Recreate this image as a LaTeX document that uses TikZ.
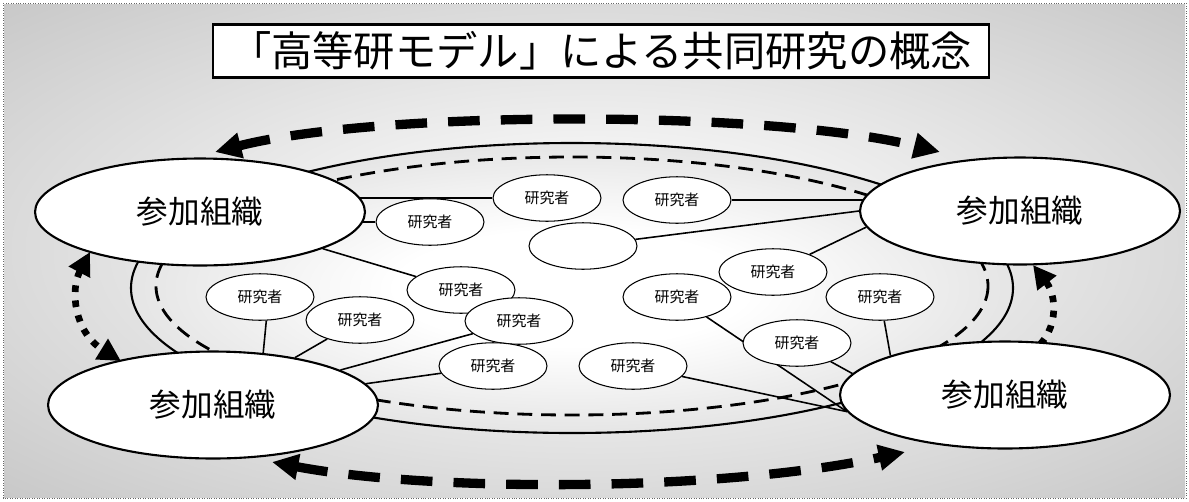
\documentclass[tikz,border=0pt]{standalone}
\usepackage{fontspec}
\setmainfont{Noto Sans CJK JP}
\usetikzlibrary{arrows.meta,shapes.geometric}
\pgfdeclarelayer{back}
\pgfsetlayers{back,main}
\pgfdeclareradialshading{glow}{\pgfpoint{0bp}{0bp}}{color(0bp)=(white); color(3bp)=(white); color(50bp)=(black!31); color(75bp)=(black!31)}
\pgfdeclareradialshading{glowin}{\pgfpoint{0bp}{0bp}}{color(0bp)=(white); color(10bp)=(white); color(50bp)=(black!27)}

\begin{document}
\begin{tikzpicture}[x=0.02cm,y=-0.02cm,
    org/.style={ellipse,draw,line width=1.2pt,fill=white,minimum width=6.6cm,minimum height=2.14cm,inner sep=0pt,font=\fontsize{18}{20}\selectfont},
    res/.style={ellipse,draw,line width=.6pt,fill=white,minimum width=2.16cm,minimum height=.93cm,inner sep=0pt,font=\fontsize{8.5}{10}\selectfont},
    link/.style={line width=.9pt},
    bigarrow/.style={line width=5.3pt,dash pattern=on 18pt off 12pt,>={Triangle[length=15pt,width=14pt]},<->},
    dotarrow/.style={line width=3.8pt,dash pattern=on 3.8pt off 4.8pt,>={Triangle[length=13pt,width=13pt]},<->}]
      \useasboundingbox (0,0) rectangle (1189,501);
      % title
      \node[draw,line width=1.2pt,fill=white,minimum width=15.54cm,minimum height=1.06cm,font=\fontsize{23.5}{26}\selectfont] (title) at (601,51) {「高等研モデル」による共同研究の概念};
      % participating organisations
      \node[org] (tl) at (200,212) {参加組織};
      \node[org,minimum width=6.4cm] (tr) at (1020,211) {参加組織};
      \node[org] (bl) at (213,405) {参加組織};
      \node[org] (br) at (1005,395) {参加組織};
      % researchers
      \node[res] (r1) at (547,198) {研究者};
      \node[res] (r2) at (677,200) {研究者};
      \node[res] (r3) at (430,222) {研究者};
      \node[res] (e) at (583,246) {};
      \node[res] (r5) at (461,290) {研究者};
      \node[res] (r6) at (773,272) {研究者};
      \node[res] (r7) at (260,297) {研究者};
      \node[res] (r8) at (360,320) {研究者};
      \node[res] (r9) at (519,321) {研究者};
      \node[res] (r10) at (677,297) {研究者};
      \node[res] (r11) at (880,297) {研究者};
      \node[res] (r12) at (797,343) {研究者};
      \node[res] (r13) at (493,366) {研究者};
      \node[res] (r14) at (633,366) {研究者};
      \coordinate (ta) at (215,152);
      \coordinate (tb) at (940,152);
      \coordinate (ba) at (272,462);
      \coordinate (bb) at (905,452);
      \coordinate (la) at (90,252);
      \coordinate (lb) at (121,361);
      \coordinate (ra) at (1033,265);
      \coordinate (rb) at (1000,362);
      \begin{pgfonlayer}{back}
        \shade[shading=glow] (4,4) rectangle (1185,497);
        \draw[black!60,densely dotted] (3,3) rectangle (1186,498);
        \shade[shading=glowin] (572,288) ellipse [x radius=441,y radius=145];
        \draw[line width=1.2pt] (572,288) ellipse [x radius=441,y radius=145];
        \draw[line width=1.6pt,dash pattern=on 8.5pt off 5pt] (572,286) ellipse [x radius=416,y radius=129];
        % exchange between organisations
        \draw[bigarrow] (ta) .. controls (380,110) and (770,110) .. (tb);
        \draw[bigarrow] (ba) .. controls (430,492) and (720,492) .. (bb);
        \draw[dotarrow] (la) .. controls (70,290) and (74,332) .. (lb);
        \draw[dotarrow] (ra) .. controls (1060,300) and (1057,345) .. (rb);
        % links
        \draw[link] (r1) -- (r1 -| tl);
        \draw[link] (r3) -- (r3 -| tl);
        \draw[link] (r5) -- (tl);
        \draw[link] (r2) -- (r2 -| tr);
        \draw[link] (e) -- (tr.west);
        \draw[link] (r6) -- (tr.186);
        \draw[link] (r7.-75) -- (bl.46);
        \draw[link] (r8) -- (bl);
        \draw[link] (r9) -- (bl);
        \draw[link] (r13) -- (bl);
        \draw[link] (r10) -- (br.186);
        \draw[link] (r14) -- (br.186);
        \draw[link] (r12) -- (br.172);
        \draw[link] (r11) -- (br.161);
      \end{pgfonlayer}
    \end{tikzpicture}
\end{document}
